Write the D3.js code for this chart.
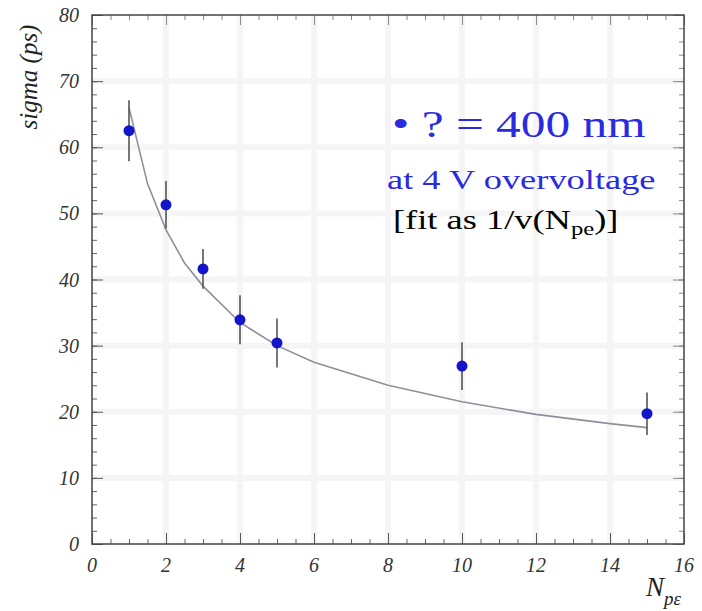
<!DOCTYPE html>
<html>
<head>
<meta charset="utf-8">
<script src="https://cdn.jsdelivr.net/npm/d3@7"></script>
<style>
  body { margin: 0; background: #fff; }
</style>
</head>
<body>
<svg id="chart" width="702" height="611" font-family="Liberation Serif, Times New Roman, DejaVu Serif, serif"></svg>
<script>
"use strict";

// measured points: number of photoelectrons vs time resolution
let nPe = [1, 2, 3, 4, 5, 10, 15];
let sigma = [62.5, 51.3, 41.6, 33.9, 30.4, 26.9, 19.7];
let sigmaErr = [4.6, 3.6, 3.0, 3.7, 3.7, 3.6, 3.2];

// fit curve
let fitN = [1, 1.5, 2, 2.5, 3, 4, 5, 6, 8, 10, 12, 14, 15];
let fitSigma = [66, 54.5, 47.5, 42.5, 39, 33.5, 30, 27.5, 24, 21.5, 19.6, 18.2, 17.6];

let xTicks = [0, 2, 4, 6, 8, 10, 12, 14, 16];
let yTicks = [0, 10, 20, 30, 40, 50, 60, 70, 80];

const SERIF = 'Liberation Serif, Times New Roman, DejaVu Serif, serif';

let svg = d3.select('#chart');
let frame = { left: 92, right: 684, top: 15, bottom: 544 };

let x = d3.scaleLinear().domain([0, 16]).range([frame.left, frame.right]);
let y = d3.scaleLinear().domain([0, 80]).range([frame.bottom, frame.top]);

// faint grid bands
let grid = svg.append('g').attr('class', 'grid');
grid.selectAll('line.gx')
  .data(xTicks.slice(1, -1))
  .enter().append('line')
    .attr('x1', d => x(d)).attr('x2', d => x(d))
    .attr('y1', frame.top).attr('y2', frame.bottom)
    .style('stroke', '#f5f5f5').style('stroke-width', 6);
grid.selectAll('line.gy')
  .data(yTicks.slice(1, -1))
  .enter().append('line')
    .attr('x1', frame.left).attr('x2', frame.right)
    .attr('y1', d => y(d)).attr('y2', d => y(d))
    .style('stroke', '#f5f5f5').style('stroke-width', 6);

// axes drawn ROOT style, ticks pointing inside the frame
let xMinor = d3.range(0, 16.01, 0.5);
let yMinor = d3.range(0, 80.01, 2);

function ticks(gen, vals, size, pos, colour) {
  svg.append('g')
      .attr('transform', pos)
      .call(gen.tickValues(vals).tickSize(size).tickFormat(''))
      .call(g => g.select('.domain').remove())
      .selectAll('line').style('stroke', colour);
}
ticks(d3.axisTop(x), xMinor, 5, `translate(0,${frame.bottom})`, '#666');
ticks(d3.axisTop(x), xTicks, 11, `translate(0,${frame.bottom})`, '#555');
ticks(d3.axisBottom(x), xMinor, 5, `translate(0,${frame.top})`, '#888');
ticks(d3.axisBottom(x), xTicks, 10, `translate(0,${frame.top})`, '#888');
ticks(d3.axisRight(y), yMinor, 5, `translate(${frame.left},0)`, '#666');
ticks(d3.axisRight(y), yTicks, 11, `translate(${frame.left},0)`, '#555');
ticks(d3.axisLeft(y), yMinor, 5, `translate(${frame.right},0)`, '#888');
ticks(d3.axisLeft(y), yTicks, 11, `translate(${frame.right},0)`, '#888');

// tick labels
svg.selectAll('text.xl')
  .data(xTicks)
  .enter().append('text')
    .attr('font-family', SERIF)
    .style('font-style', 'italic').style('font-size', '20px').style('fill', '#333')
    .attr('x', d => x(d))
    .attr('y', frame.bottom + 28)
    .attr('text-anchor', 'middle')
    .text(d => d);
svg.selectAll('text.yl')
  .data(yTicks)
  .enter().append('text')
    .attr('font-family', SERIF)
    .style('font-style', 'italic').style('font-size', '20px').style('fill', '#333')
    .attr('x', frame.left - 13)
    .attr('y', d => y(d) + 7)
    .attr('text-anchor', 'end')
    .text(d => d);

// frame
svg.append('rect')
  .attr('x', frame.left).attr('y', frame.top)
  .attr('width', frame.right - frame.left)
  .attr('height', frame.bottom - frame.top)
  .style('fill', 'none').style('stroke', '#444').style('stroke-width', 1.5);

// axis titles
svg.append('text')
  .attr('font-family', SERIF)
  .attr('transform', 'translate(37,77) rotate(-90)')
  .attr('text-anchor', 'middle')
  .style('font-style', 'italic').style('font-size', '25px').style('fill', '#222')
  .text('sigma (ps)');

let xt = svg.append('text')
  .attr('font-family', SERIF)
  .attr('x', 646).attr('y', 596)
  .style('font-style', 'italic').style('fill', '#222');
xt.append('tspan').style('font-size', '27px').text('N');
xt.append('tspan').attr('dy', 9).style('font-size', '19px').text('pε');

// fit curve
let line = d3.line()
  .x((d, i) => x(fitN[i]))
  .y(d => y(d));
svg.append('path')
  .datum(fitSigma)
  .attr('d', line)
  .style('fill', 'none').style('stroke', '#8f8f9c').style('stroke-width', 1.6);

// error bars and points
let pts = nPe.map((n, i) => ({ n: n, s: sigma[i], e: sigmaErr[i] }));
svg.selectAll('line.err')
  .data(pts)
  .enter().append('line')
    .attr('x1', d => x(d.n)).attr('x2', d => x(d.n))
    .attr('y1', d => y(d.s + d.e)).attr('y2', d => y(d.s - d.e))
    .style('stroke', '#555').style('stroke-width', 1.6);
svg.selectAll('circle.pt')
  .data(pts)
  .enter().append('circle')
    .attr('cx', d => x(d.n))
    .attr('cy', d => y(d.s))
    .attr('r', 5.5)
    .style('fill', '#1414c8');

// legend text (pasted in stretched sideways on the slide)
let stretch = 1.3;
svg.append('text')
  .attr('font-family', SERIF)
  .attr('transform', `translate(392,137) scale(${stretch},1)`)
  .style('font-size', '38px').style('fill', '#2a2ae0')
  .text('• ? = 400 nm');
svg.append('text')
  .attr('font-family', SERIF)
  .attr('transform', `translate(387,189) scale(${stretch},1)`)
  .style('font-size', '28px').style('fill', '#2a2ae0')
  .text('at 4 V overvoltage');
let fitText = svg.append('text')
  .attr('font-family', SERIF)
  .attr('transform', `translate(393,229) scale(${stretch},1)`)
  .style('font-size', '28px').style('fill', '#000');
fitText.append('tspan').text('[fit as 1/v(N');
fitText.append('tspan').attr('dy', 6).style('font-size', '19px').text('pe');
fitText.append('tspan').attr('dy', -6).text(')]');
</script>
</body>
</html>
